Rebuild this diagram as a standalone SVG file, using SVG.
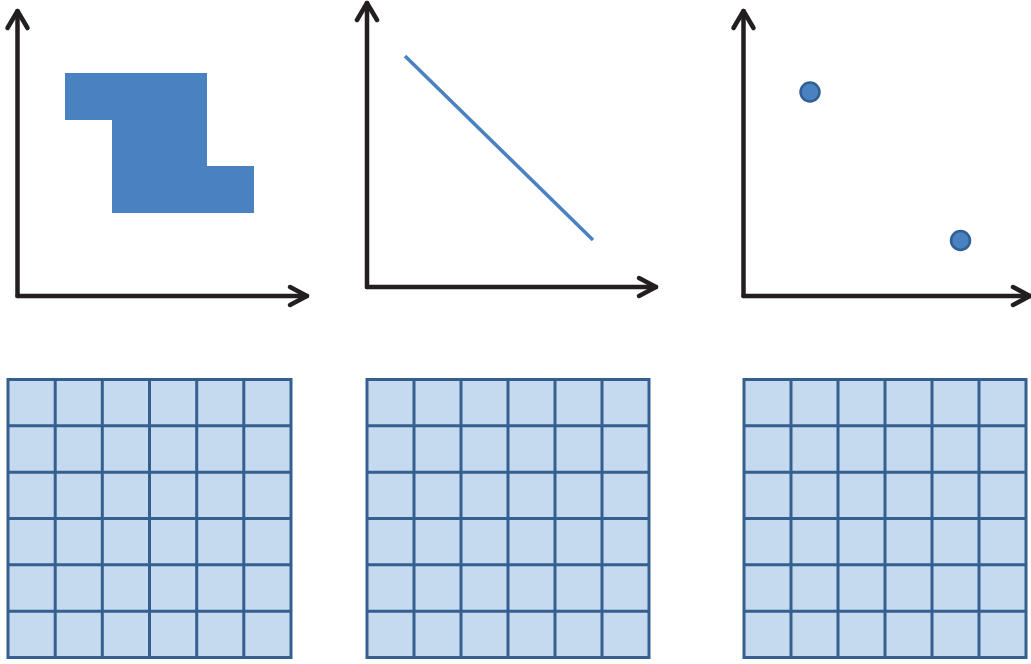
<svg xmlns="http://www.w3.org/2000/svg" width="1031" height="664" viewBox="0 0 1031 664">
<defs>
<style>
.axis{fill:none;stroke:#231f20;stroke-width:4.5;stroke-linecap:round;stroke-linejoin:round}
.blue{fill:#4a81c0}
.dot{fill:#4a81c0;stroke:#2f5f93;stroke-width:2.5}
.cell{fill:#c6daef;stroke:#355f8f;stroke-width:3}
.gl{stroke:#355f8f;stroke-width:3;fill:none}
</style>
</defs>
<rect width="1031" height="664" fill="#ffffff"/>

<g id="plot1">
<polyline class="axis" points="17.5,296 17.5,11"/>
<polyline class="axis" points="7.5,28 17.5,11 27.5,28"/>
<polyline class="axis" points="17.5,296 307,296"/>
<polyline class="axis" points="290,287 307,296 290,305"/>
<polygon class="blue" points="65,73 207,73 207,166 254,166 254,213 112,213 112,120 65,120"/>
</g>

<g id="plot2">
<polyline class="axis" points="367,287 367,3"/>
<polyline class="axis" points="357,20 367,3 377,20"/>
<polyline class="axis" points="367,287 656,287"/>
<polyline class="axis" points="639,278 656,287 639,296"/>
<line x1="405" y1="56" x2="593" y2="240" stroke="#4a81c0" stroke-width="3.5"/>
</g>

<g id="plot3">
<polyline class="axis" points="743.5,296 743.5,11"/>
<polyline class="axis" points="733.5,28 743.5,11 753.5,28"/>
<polyline class="axis" points="743.5,296 1030,296"/>
<polyline class="axis" points="1013,287 1030,296 1013,305"/>
<circle class="dot" cx="810" cy="92" r="9.5"/>
<circle class="dot" cx="960.5" cy="240.5" r="9.5"/>
</g>

<g id="grid1">
<rect class="cell" x="8" y="379.5" width="283" height="278"/>
<path class="gl" d="M55.2,379.5V657.5M102.3,379.5V657.5M149.5,379.5V657.5M196.7,379.5V657.5M243.8,379.5V657.5M8,425.8H291M8,472.2H291M8,518.5H291M8,564.8H291M8,611.2H291"/>
</g>

<g id="grid2">
<rect class="cell" x="367" y="379.5" width="282" height="278"/>
<path class="gl" d="M414,379.5V657.5M461,379.5V657.5M508,379.5V657.5M555,379.5V657.5M602,379.5V657.5M367,425.8H649M367,472.2H649M367,518.5H649M367,564.8H649M367,611.2H649"/>
</g>

<g id="grid3">
<rect class="cell" x="744" y="379.5" width="282" height="278"/>
<path class="gl" d="M791,379.5V657.5M838,379.5V657.5M885,379.5V657.5M932,379.5V657.5M979,379.5V657.5M744,425.8H1026M744,472.2H1026M744,518.5H1026M744,564.8H1026M744,611.2H1026"/>
</g>

<g id="connectors"/>
</svg>
